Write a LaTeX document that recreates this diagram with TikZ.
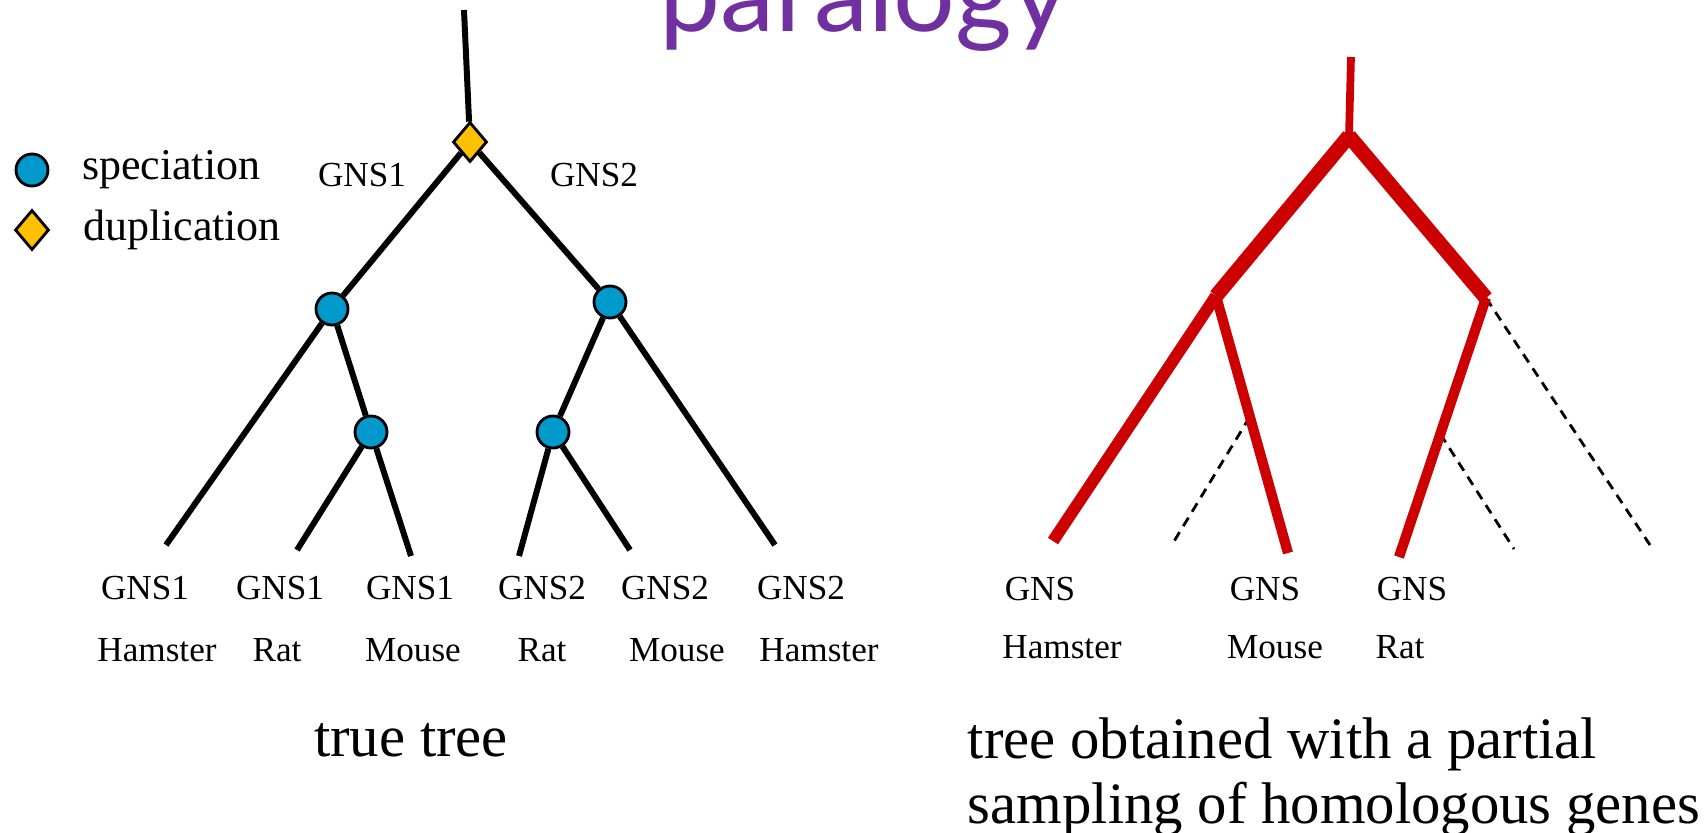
\documentclass[tikz,border=0pt]{standalone}
\usepackage{fontspec}
\setmainfont{Liberation Serif}
\newfontfamily\titlefont{Lato}
\usepackage{xcolor}
\usetikzlibrary{calc,positioning,shapes.geometric}
\definecolor{SpecBlue}{HTML}{0099CC}
\definecolor{DupOrange}{HTML}{FFC000}
\definecolor{TreeRed}{HTML}{CC0000}
\definecolor{TitlePurple}{HTML}{7030A0}

\begin{document}
\begin{tikzpicture}[
      x=0.01cm,y=-0.01cm,
      br/.style={line width=1.7pt},
      rb/.style={draw=TreeRed,line width=#1},
      lost/.style={line width=0.8pt,dash pattern=on 2.8pt off 2pt},
      spec/.style={circle,draw,fill=SpecBlue,line width=0.8pt,minimum size=0.32cm,inner sep=0pt},
      dup/.style={diamond,draw,fill=DupOrange,line width=0.8pt,minimum width=0.34cm,minimum height=0.4cm,inner sep=0pt},
      lbl/.style={font=\fontsize{10}{12}\selectfont,inner sep=0pt},
      lgd/.style={font=\fontsize{12.5}{15}\selectfont,inner sep=0pt},
      captxt/.style={font=\fontsize{16.7}{18.5}\selectfont,inner sep=0pt}
    ]
      \useasboundingbox[fill=white] (0,0) rectangle (1708,833);
      \node[font=\titlefont\fontsize{31}{31}\selectfont,text=TitlePurple,anchor=base,inner sep=0pt] (title) at (864,31) {paralogy};

      \node[spec] (lspec) at (32,170) {};
      \node[lgd,right=0.32cm of lspec] (tspec) {speciation};
      \node[dup] (ldup) at (32,230) {};
      \node[lgd,right=0.32cm of ldup] (tdup) {duplication};

      \coordinate (top) at (464,10);
      \node[dup] (d) at (470,142) {};
      \node[spec] (s1) at (332,309) {};
      \node[spec] (s2) at (610,302) {};
      \node[spec] (s3) at (371,432) {};
      \node[spec] (s4) at (553,432) {};
      \coordinate (l1) at (166,545);
      \coordinate (l2) at (297,550);
      \coordinate (l3) at (411,556);
      \coordinate (l4) at (519,556);
      \coordinate (l5) at (630,550);
      \coordinate (l6) at (775,545);
      \draw[br] (top) -- (d);
      \draw[br] (d) -- (s1);
      \draw[br] (d) -- (s2);
      \draw[br] (s1) -- (l1);
      \draw[br] (s1) -- (s3);
      \draw[br] (s3) -- (l2);
      \draw[br] (s3) -- (l3);
      \draw[br] (s2) -- (s4);
      \draw[br] (s4) -- (l4);
      \draw[br] (s4) -- (l5);
      \draw[br] (s2) -- (l6);
      \node[lbl] (b1) at (362,175) {GNS1};
      \node[lbl] (b2) at (594,175) {GNS2};

      \foreach \i/\gx/\nx/\g/\n in {1/145/157/GNS1/Hamster,2/280/277/GNS1/Rat,3/410/413/GNS1/Mouse,
                                    4/542/542/GNS2/Rat,5/665/677/GNS2/Mouse,6/801/819/GNS2/Hamster}{
        \node[lbl] (g\i) at (\gx,588) {\g};
        \node[lbl] (n\i) at (\nx,650) {\n};
      }
      \node[captxt] (true) at (411,740) {true tree};

      \coordinate (rtop) at (1351,57);
      \coordinate (rj) at (1349,136);
      \coordinate (e) at (1216,296);
      \coordinate (f) at (1486,298);
      \coordinate (r1) at (1053,541);
      \coordinate (r2) at (1288,553);
      \coordinate (r3) at (1399,557);
      \coordinate (dm) at ($(e)!0.47!(r2)$);
      \coordinate (dr) at ($(f)!0.525!(r3)$);
      \coordinate (x1) at (1173,543);
      \coordinate (x2) at (1514,549);
      \coordinate (x3) at (1650,545);
      \draw[lost] (dm) -- (x1);
      \draw[lost] (dr) -- (x2);
      \draw[lost] (f) -- (x3);
      \draw[rb=2.2pt] (rtop) -- (rj);
      \draw[rb=4.2pt] (rj) -- (e);
      \draw[rb=4.2pt] (rj) -- (f);
      \draw[rb=3.4pt] (e) -- (r1);
      \draw[rb=2.9pt] (e) -- (r2);
      \draw[rb=2.9pt] (f) -- (r3);
      \node[lbl] (rg1) at (1040,589) {GNS};
      \node[lbl] (rn1) at (1062,647) {Hamster};
      \node[lbl] (rg2) at (1265,589) {GNS};
      \node[lbl] (rn2) at (1275,647) {Mouse};
      \node[lbl] (rg3) at (1412,589) {GNS};
      \node[lbl] (rn3) at (1400,647) {Rat};
      \node[captxt,align=left,anchor=west] (partial) at (967,777) {tree obtained with a partial\\sampling of homologous genes};
    \end{tikzpicture}
\end{document}
